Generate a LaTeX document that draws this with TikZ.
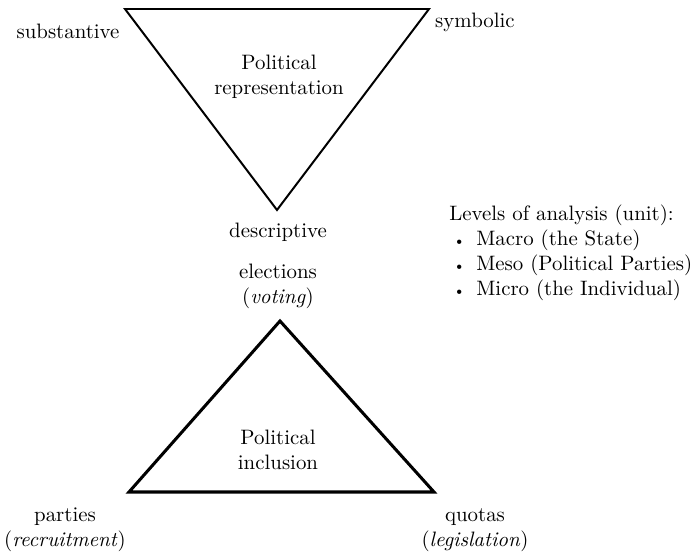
\documentclass[tikz,border=0pt]{standalone}
\usepackage{tikz}
\usetikzlibrary{positioning,calc}
\newcommand{\lvlitem}{\makebox[12.9pt][l]{\hspace{1.6pt}{\scriptsize\textbullet}}}
\tikzset{
  corner/.style={font=\normalsize,align=center,inner sep=1pt},
  title/.style={font=\normalsize,align=center,inner sep=1pt},
  reprline/.style={line width=0.95pt,line join=miter},
  inclline/.style={line width=1.45pt,line join=miter}
}
\begin{document}
\begin{tikzpicture}[x=0.01684cm,y=-0.01684cm]
  \useasboundingbox (0,0) rectangle (697,556);
  % representation triangle
  \coordinate (rsub) at (125,9);
  \coordinate (rsym) at (429,9);
  \coordinate (rdes) at (277,210);
  \draw[reprline] (rsub) -- (rsym) -- (rdes) -- cycle;
  \node[title] (repr) at (279,77) {Political\\representation};
  \node[corner] (substantive) at (68,31) {substantive};
  \node[corner] (symbolic) at (475,22) {symbolic};
  \node[corner] (descriptive) at (278,232) {descriptive};
  % inclusion triangle
  \coordinate (iele) at (280,321);
  \coordinate (ipar) at (129,492);
  \coordinate (iquo) at (434,492);
  \draw[inclline] (iele) -- (iquo) -- (ipar) -- cycle;
  \node[title] (incl) at (278,450) {Political\\inclusion};
  \node[corner] (elections) at (278,286) {elections\\(\textit{voting})};
  \node[corner] (parties) at (65,530) {parties\\(\textit{recruitment})};
  \node[corner] (quotas) at (475,530) {quotas\\(\textit{legislation})};
  % levels
  \node[align=left,anchor=west,inner sep=0pt] (levels) at (449,253)
    {Levels of analysis (unit):\\
     \lvlitem Macro (the State)\\
     \lvlitem Meso (Political Parties)\\
     \lvlitem Micro (the Individual)};
\end{tikzpicture}
\end{document}
